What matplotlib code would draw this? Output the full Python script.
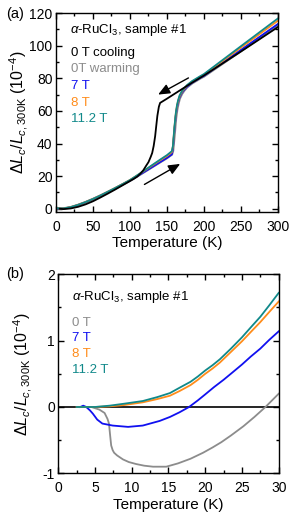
import matplotlib
matplotlib.use("Agg")
import matplotlib.pyplot as plt
from matplotlib.ticker import MultipleLocator

plt.rcParams['font.family'] = ['Liberation Sans', 'DejaVu Sans']
plt.rcParams['mathtext.fontset'] = 'custom'
plt.rcParams['mathtext.rm'] = 'Liberation Sans'
plt.rcParams['mathtext.it'] = 'Liberation Sans:italic'
plt.rcParams['mathtext.bf'] = 'Liberation Sans:bold'

# ---------------- Panel (a) data ----------------
T_cool = [5, 10, 20, 30, 40, 50, 60, 70, 80, 90, 100, 105, 110, 114, 118, 122, 125, 128, 130, 132, 134, 135.3, 137, 139, 140.7,
          150, 160, 170, 183.6, 200, 250, 300]
L_cool = [0.0, -0.2, 0.2, 1.2, 2.7, 4.6, 6.9, 9.3, 11.8, 14.4, 17.0, 18.3, 19.8, 21.5, 23.6, 26.5, 28.6, 31.8, 34.2, 38.5, 44.5, 50.0, 57.0, 62.5, 64.9,
          67.5, 70.4, 73.3, 77.2, 81.7, 96.4, 111.4]

T_warm = [0, 5, 10, 20, 30, 40, 50, 60, 70, 80, 90, 100, 110, 120, 130, 140, 150, 156.5, 158, 160, 162, 163.5, 165, 167, 170,
          173, 177, 184, 195, 200, 250, 300]
L_112T = [0.5, 0.2, 0.2, 1.0, 2.4, 4.1, 6.0, 8.1, 10.4, 12.7, 15.1, 17.6, 20.6, 23.7, 26.8, 29.9, 32.9, 35.3, 38.5, 50.0, 59.0, 63.5, 66.5, 69.5, 72.0,
          73.8, 75.8, 78.3, 81.3, 82.6, 99.7, 116.7]
L_8T = [0.5, 0.2, 0.2, 1.0, 2.4, 4.1, 6.0, 8.1, 10.4, 12.7, 15.1, 17.6, 20.5, 23.5, 26.5, 29.5, 32.4, 34.7, 38.0, 49.5, 58.5, 63.0, 66.0, 69.0, 71.6,
        73.4, 75.5, 78.0, 81.0, 82.2, 98.8, 115.3]
L_7T = [0.4, 0.1, 0.1, 0.9, 2.3, 4.0, 5.9, 8.0, 10.2, 12.5, 14.9, 17.3, 20.0, 22.8, 25.6, 28.4, 31.2, 33.3, 36.5, 48.0, 57.5, 62.0, 65.2, 68.3, 71.0,
        72.8, 74.8, 77.3, 80.3, 81.5, 97.4, 113.3]
L_0Tw = [0.4, 0.1, 0.1, 0.9, 2.3, 4.0, 5.9, 8.0, 10.2, 12.5, 14.9, 17.3, 20.0, 22.8, 25.6, 28.4, 31.2, 33.3, 35.5, 45.0, 55.5, 60.5, 64.0, 67.5, 70.4,
        72.4, 74.5, 77.0, 80.0, 81.2, 96.8, 112.5]

# ---------------- Panel (b) data ----------------
Tb_0T = [4.0, 4.5, 5.6, 6.3, 6.7, 6.9, 7.05, 7.2, 7.4, 7.6, 8.0, 8.8, 9.6, 10.6, 11.7, 12.9, 14.7, 16.3, 18.0, 19.7, 21.0, 22.2, 23.5,
         25.2, 26.7, 28.2, 30.0]
Lb_0T = [0.0, 0.0, -0.04, -0.09, -0.18, -0.25, -0.42, -0.58, -0.65, -0.69, -0.73, -0.79, -0.83, -0.86, -0.885, -0.90, -0.90, -0.85, -0.78,
         -0.69, -0.61, -0.53, -0.43, -0.29, -0.15, 0.0, 0.20]

Tb_7T = [3.0, 3.4, 3.8, 4.3, 4.7, 5.3, 6.0, 7.4, 9.5, 11.5, 13.8, 15.2, 16.5, 17.8, 19.0, 20.0, 21.2, 22.5, 23.7, 25.0, 26.2, 27.5,
         28.7, 30.0]
Lb_7T = [0.0, 0.02, 0.0, -0.05, -0.10, -0.19, -0.25, -0.28, -0.30, -0.28, -0.21, -0.15, -0.08, 0.0, 0.10, 0.19, 0.30, 0.41, 0.52,
         0.64, 0.76, 0.88, 1.01, 1.14]

Tb_hi = [2.5, 5.0, 7.0, 9.0, 11.5, 13.5, 15.2, 16.5, 18.0, 19.0, 20.0, 21.0, 22.0, 23.5, 25.0, 26.2, 27.5, 28.7, 30.0]
Lb_8T = [0.0, 0.0, 0.01, 0.03, 0.07, 0.12, 0.17, 0.24, 0.33, 0.41, 0.50, 0.58, 0.67, 0.83, 0.99, 1.13, 1.28, 1.43, 1.59]
Lb_112T = [0.0, 0.0, 0.02, 0.05, 0.09, 0.15, 0.21, 0.29, 0.38, 0.46, 0.55, 0.63, 0.72, 0.88, 1.05, 1.20, 1.36, 1.53, 1.72]

C_BLACK = 'black'
C_GRAY = '#8c8c8c'
C_BLUE = '#1010f0'
C_ORANGE = '#ff8c1a'
C_TEAL = '#10898a'

fig = plt.figure(figsize=(2.91, 5.16), dpi=100)
ax1 = fig.add_axes([0.1924, 0.5891, 0.7629, 0.3857])
ax2 = fig.add_axes([0.2003, 0.0827, 0.7574, 0.3857])

lw = 1.3
ax1.plot(T_warm, L_0Tw, color=C_GRAY, lw=lw + 0.6)
ax1.plot(T_warm, L_7T, color=C_BLUE, lw=lw)
ax1.plot(T_warm, L_8T, color=C_ORANGE, lw=lw)
ax1.plot(T_warm, L_112T, color=C_TEAL, lw=lw)
ax1.plot(T_cool, L_cool, color=C_BLACK, lw=lw)

arrow_kw = dict(arrowstyle='-|>,head_length=0.7,head_width=0.3', color='black', lw=1.0, shrinkA=0, shrinkB=0)
ax1.annotate('', xy=(138, 70), xytext=(179, 80.2), arrowprops=arrow_kw)
ax1.annotate('', xy=(167.8, 27.5), xytext=(119.5, 14.9), arrowprops=arrow_kw)

ax1.set_xlim(0, 300)
ax1.set_ylim(-2, 120)
ax1.xaxis.set_major_locator(MultipleLocator(50))
ax1.xaxis.set_minor_locator(MultipleLocator(25))
ax1.yaxis.set_major_locator(MultipleLocator(20))
ax1.yaxis.set_minor_locator(MultipleLocator(10))

fs_lab = 9.5
ax1.text(0.063, 0.915, r'$\alpha$-RuCl$_3$, sample #1', transform=ax1.transAxes, fontsize=fs_lab, va='center', ha='left')
labels_a = ['0 T cooling', '0T warming', '7 T', '8 T', '11.2 T']
colors_a = [C_BLACK, C_GRAY, C_BLUE, C_ORANGE, C_TEAL]
ys_a = [0.800, 0.717, 0.633, 0.549, 0.469]
for s, c, y in zip(labels_a, colors_a, ys_a):
    ax1.text(0.068, y, s, color=c, transform=ax1.transAxes, fontsize=fs_lab, va='center', ha='left')

# panel b
ax2.axhline(0, color='black', lw=1.2)
ax2.plot(Tb_0T, Lb_0T, color=C_GRAY, lw=lw)
ax2.plot(Tb_7T, Lb_7T, color=C_BLUE, lw=lw)
ax2.plot(Tb_hi, Lb_8T, color=C_ORANGE, lw=lw)
ax2.plot(Tb_hi, Lb_112T, color=C_TEAL, lw=lw)
ax2.set_xlim(0, 30)
ax2.set_ylim(-1, 2)
ax2.xaxis.set_major_locator(MultipleLocator(5))
ax2.xaxis.set_minor_locator(MultipleLocator(2.5))
ax2.yaxis.set_major_locator(MultipleLocator(1))
ax2.yaxis.set_minor_locator(MultipleLocator(0.5))
ax2.text(0.061, 0.887, r'$\alpha$-RuCl$_3$, sample #1', transform=ax2.transAxes, fontsize=fs_lab, va='center', ha='left')
labels_b = ['0 T', '7 T', '8 T', '11.2 T']
colors_b = [C_GRAY, C_BLUE, C_ORANGE, C_TEAL]
ys_b = [0.755, 0.680, 0.600, 0.519]
for s, c, y in zip(labels_b, colors_b, ys_b):
    ax2.text(0.062, y, s, color=c, transform=ax2.transAxes, fontsize=fs_lab, va='center', ha='left')

ylab = r'$\mathit{\Delta L_c}/\mathit{L}_{\mathit{c},\mathrm{300K}}$ (10$^{-4}$)'
for ax in (ax1, ax2):
    ax.tick_params(which='both', direction='in', top=True, right=True, labelsize=10)
    ax.tick_params(axis='x', which='both', pad=5.5)
    ax.tick_params(axis='y', which='both', pad=2.5)
    ax.tick_params(which='major', length=4, width=1)
    ax.tick_params(which='minor', length=2, width=1)
    for sp in ax.spines.values():
        sp.set_linewidth(1.0)
    ax.set_xlabel('Temperature (K)', fontsize=11, labelpad=2)
    ax.set_ylabel(ylab, fontsize=11.5)

ax2.set_yticks([-1, 0, 1, 2])
ax2.set_yticklabels(['-1', '0', '1', '2'])

ax1.yaxis.set_label_coords(-0.115, 0.5)
ax2.yaxis.set_label_coords(-0.11, 0.5)

fig.text(15 / 291, 1 - 14 / 516, '(a)', fontsize=10.5, ha='center', va='center')
fig.text(15 / 291, 1 - 274 / 516, '(b)', fontsize=10.5, ha='center', va='center')

fig.savefig('out.png', dpi=100)
